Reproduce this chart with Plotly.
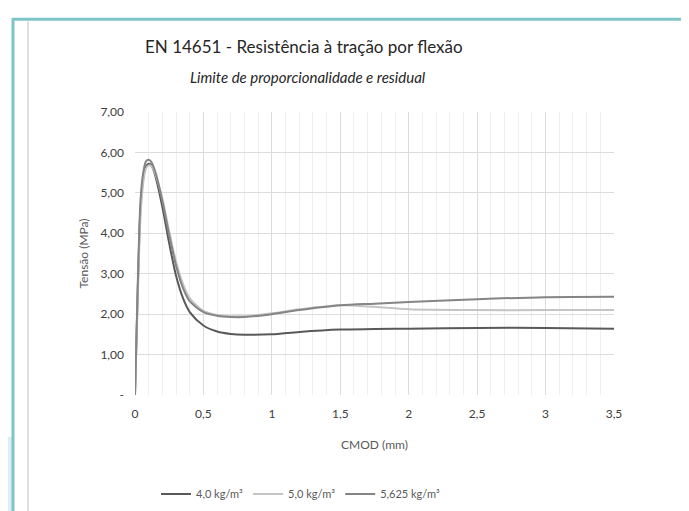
import plotly.graph_objects as go

# CMOD (mm) sample points and stresses (MPa)
cmod = [0, 0.02, 0.04, 0.06, 0.08, 0.10, 0.12, 0.15, 0.20, 0.25, 0.30, 0.35, 0.40,
        0.50, 0.60, 0.70, 0.80, 1.00, 1.20, 1.50, 1.75, 2.00, 2.50, 3.00, 3.50]

s_40 = [0, 2.6, 4.6, 5.35, 5.65, 5.72, 5.68, 5.40, 4.65, 3.75, 2.95, 2.40, 2.05,
        1.72, 1.57, 1.51, 1.49, 1.50, 1.56, 1.62, 1.63, 1.64, 1.66, 1.66, 1.64]
s_50 = [0, 2.4, 4.4, 5.25, 5.6, 5.68, 5.66, 5.45, 4.85, 4.05, 3.30, 2.75, 2.40,
        2.08, 1.98, 1.95, 1.95, 2.02, 2.12, 2.22, 2.18, 2.12, 2.10, 2.10, 2.10]
s_5625 = [0, 2.7, 4.8, 5.5, 5.78, 5.82, 5.76, 5.50, 4.80, 3.95, 3.20, 2.65, 2.32,
          2.05, 1.96, 1.93, 1.93, 2.00, 2.10, 2.22, 2.26, 2.30, 2.37, 2.42, 2.43]

series_names = ["4,0 kg/m³", "5,0 kg/m³", "5,625 kg/m³"]
series_vals = [s_40, s_50, s_5625]
series_colors = ["#595959", "#c4c4c4", "#858585"]

x_ticks = [0, 0.5, 1, 1.5, 2, 2.5, 3, 3.5]
x_ticktext = ["0", "0,5", "1", "1,5", "2", "2,5", "3", "3,5"]
y_ticks = [0, 1, 2, 3, 4, 5, 6, 7]
y_ticktext = ["-", "1,00", "2,00", "3,00", "4,00", "5,00", "6,00", "7,00"]

FONT = "Lato, 'Liberation Sans', sans-serif"

W, H = 689, 511
ML, MR, MT, MB = 127, 83, 104, 123
PW, PH = W - ML - MR, H - MT - MB


def px(xp):
    return (xp - ML) / PW


def py(yp):
    return (H - MB - yp) / PH


fig = go.Figure()
for name, vals, col in zip(series_names, series_vals, series_colors):
    fig.add_trace(go.Scatter(x=cmod, y=vals, mode="lines", name=name,
                             line=dict(color=col, width=2, shape="spline", smoothing=0.8)))

fig.update_layout(
    width=W, height=H,
    margin=dict(l=ML, r=MR, t=MT, b=MB),
    paper_bgcolor="white", plot_bgcolor="white",
    font=dict(family=FONT, color="#595959", size=12),
    showlegend=True,
    legend=dict(orientation="h", x=px(293), xanchor="center", y=py(486), yanchor="middle",
                font=dict(size=11, color="#595959"), itemwidth=30,
                traceorder="normal"),
    xaxis=dict(range=[0, 3.5], tickvals=x_ticks, ticktext=x_ticktext,
               showgrid=True, gridcolor="#dcdcdc", gridwidth=1,
               minor=dict(dtick=0.1, showgrid=True, gridcolor="#efefef", gridwidth=1),
               zeroline=False, showline=False, ticks="", ticklabelstandoff=10,
               tickfont=dict(size=12, color="#404040"),
               title=dict(text="CMOD (mm)", font=dict(size=12, color="#595959"), standoff=20)),
    yaxis=dict(range=[0, 7], tickvals=y_ticks, ticktext=y_ticktext,
               showgrid=True, gridcolor="#dcdcdc", gridwidth=1,
               zeroline=False, showline=False, ticks="", ticklabelstandoff=10,
               tickfont=dict(size=12, color="#404040"),
               title=dict(text="Tensão (MPa)", font=dict(size=12, color="#595959"), standoff=9)),
)

# Title and subtitle
fig.add_annotation(text="EN 14651 - Resistência à tração por flexão", xref="paper", yref="paper",
                   x=px(296), y=1.0, yshift=78, showarrow=False,
                   font=dict(family=FONT, size=17, color="#262626"))
fig.add_annotation(text="<i>Limite de proporcionalidade e residual</i>", xref="paper", yref="paper",
                   x=px(300), y=1.0, yshift=46, showarrow=False,
                   font=dict(family=FONT, size=15, color="#262626"))

# Decorative frame (teal border, light teal strip and grey chart border)
fig.add_shape(type="rect", xref="paper", yref="paper", x0=px(0), x1=px(4), y0=py(430), y1=py(511),
              line=dict(width=0), fillcolor="#d9eff0", layer="above")
fig.add_shape(type="line", xref="paper", yref="paper", x0=px(4), x1=px(689), y0=py(11), y1=py(11),
              line=dict(color="#7fc4c8", width=3), layer="above")
fig.add_shape(type="line", xref="paper", yref="paper", x0=px(5), x1=px(5), y0=py(10), y1=py(511),
              line=dict(color="#7fc4c8", width=3), layer="above")
fig.add_shape(type="line", xref="paper", yref="paper", x0=px(20), x1=px(20), y0=py(13), y1=py(511),
              line=dict(color="#e0e0e0", width=2), layer="above")
fig.add_shape(type="line", xref="paper", yref="paper", x0=px(20), x1=px(680), y0=py(509), y1=py(509),
              line=dict(color="#ececec", width=2), layer="above")

fig.write_html("out.html")
